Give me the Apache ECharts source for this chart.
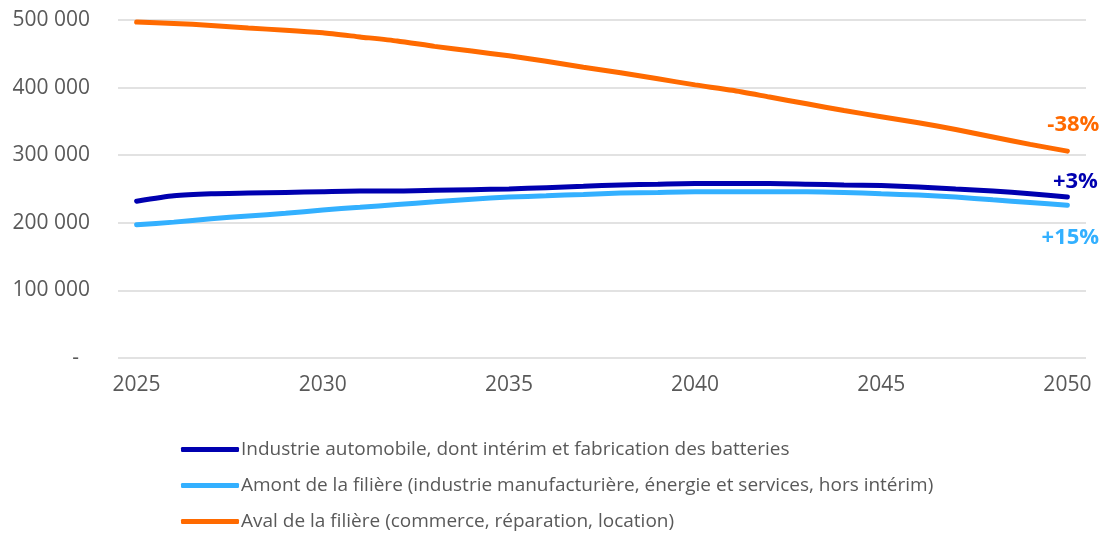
<!DOCTYPE html>
<html><head><meta charset="utf-8">
<script src="https://cdn.jsdelivr.net/npm/echarts@6/dist/echarts.min.js"></script>
<style>html,body{margin:0;padding:0;background:#fff}#c{width:1103px;height:536px}</style>
</head><body><div id="c"></div>
<script>
const years = ['2025','2026','2027','2028','2029','2030','2031','2032','2033','2034','2035','2036','2037','2038','2039','2040','2041','2042','2043','2044','2045','2046','2047','2048','2049','2050'];
const industrie = [232000,240000,243000,244000,245000,246000,247000,247000,248000,249000,250000,252000,254000,256000,257000,258000,258000,258000,257000,256000,255000,253000,250000,247000,243000,238000];
const amont = [197000,201000,206000,210000,214000,219000,223000,227000,231000,235000,238000,240000,242000,244000,245000,246000,246000,246000,246000,245000,243000,241000,238000,234000,230000,226000];
const aval = [497000,495000,492000,488000,485000,481000,475000,469000,461000,454000,447000,439000,430000,422000,413000,404000,396000,386000,376000,366000,357000,348000,338000,327000,316000,306000];
const names = ['Industrie automobile, dont intérim et fabrication des batteries','Amont de la filière (industrie manufacturière, énergie et services, hors intérim)','Aval de la filière (commerce, réparation, location)'];
const endLabels = ['+3%','+15%','-38%'];
const colors = ['#0000B0','#33B0FF','#FF6A00'];

const chart = echarts.init(document.getElementById('c'));
function fmt(v){ if(v===0) return '-  '; return String(v).replace(/\B(?=(\d{3})+(?!\d))/g,' '); }
const labelOffsets = [[8,-15],[3,33],[6,-26]];
function mk(i, arr){
  return {
    name: names[i], type:'line', data: arr,
    smooth:0.2, symbol:'none', lineStyle:{width:5, color:colors[i], cap:'round'}, itemStyle:{color:colors[i]}, z: 3,
    endLabel:{show:true, formatter:endLabels[i], distance:0, align:'center', verticalAlign:'middle', offset:labelOffsets[i], color:colors[i], fontSize:22, fontWeight:'bold', fontFamily:'Open Sans'}
  };
}
chart.setOption({
  animation:false,
  textStyle:{fontFamily:'Open Sans'},
  grid:{left:118,right:17,top:20,bottom:178,containLabel:false},
  xAxis:{type:'category',data:years,boundaryGap:true,
    axisLine:{show:false},axisTick:{show:false},
    axisLabel:{interval:4,color:'#595959',fontSize:21,margin:17,fontFamily:'Open Sans'}},
  yAxis:{type:'value',min:0,max:500000,interval:100000,
    axisLine:{show:false},axisTick:{show:false},
    splitLine:{lineStyle:{color:'#D9D9D9',width:1.5}},
    axisLabel:{formatter:fmt,color:'#595959',fontSize:21,margin:28,fontFamily:'Open Sans'}},
  legend:{orient:'vertical',left:176,top:435,itemWidth:58,itemHeight:5,itemGap:17,icon:'roundRect',
    textStyle:{color:'#595959',fontSize:19,fontFamily:'Open Sans',padding:[0,0,0,-3]},
    data:names},
  series:[mk(0,industrie),mk(1,amont),mk(2,aval)]
});
</script></body></html>
